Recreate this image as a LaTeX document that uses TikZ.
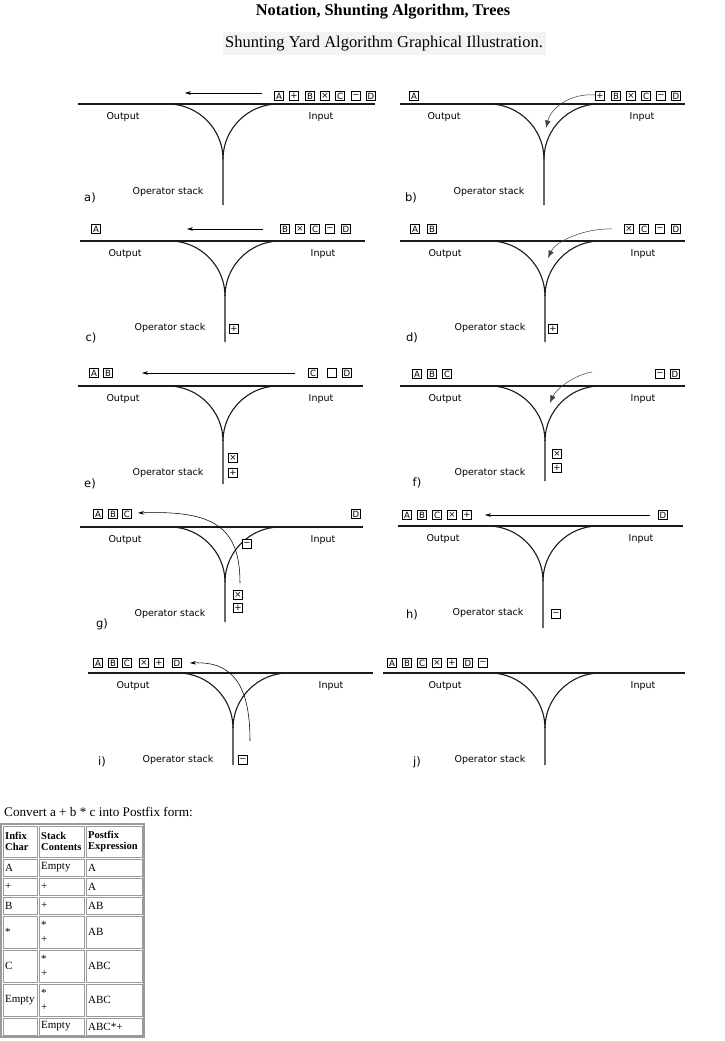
\documentclass[tikz,border=0pt]{standalone}
\usepackage{fontspec}
\setmainfont{Liberation Serif}
\newfontfamily\dvsans{DejaVu Sans}
\usetikzlibrary{arrows.meta}
\definecolor{trackc}{HTML}{1A1A1A}
\definecolor{cellgray}{HTML}{9A9A9A}
\definecolor{subbg}{HTML}{F3F3F3}
\tikzset{
  track/.style={trackc, line width=1.1pt},
  tok/.style={draw, line width=0.55pt, inner sep=0pt, minimum size=9.4pt,
    font=\dvsans\fontsize{8.6}{9}\selectfont},
  lbl/.style={font=\dvsans\fontsize{9.5}{10}\selectfont},
  tag/.style={font=\dvsans\fontsize{11.5}{12}\selectfont},
  mv/.style={-{Stealth[length=6pt,width=3.6pt]}, line width=0.55pt},
  push/.style={-{Latex[length=7.5pt,width=5.5pt]}, line width=0.5pt, black!75},
  cell/.style={draw=cellgray, line width=1pt},
  celltxt/.style={anchor=west, inner sep=0pt, align=left,
    font=\fontsize{11}{14}\selectfont},
}

\begin{document}
\begin{tikzpicture}[x=1pt, y=-1pt]
  \fill[white] (0,0) rectangle (725,1041);
  \useasboundingbox (0,0) rectangle (725,1041);

  % heading
  \node[font=\bfseries\fontsize{16.3}{19}\selectfont] (title) at (383,12) {Notation, Shunting Algorithm, Trees};
  \node[fill=subbg, minimum width=323pt, minimum height=23pt, inner sep=0pt,
    font=\fontsize{16.5}{19}\selectfont] (sub) at (384,44) {Shunting Yard Algorithm Graphical Illustration.};

  % ten panels: tracks and labels
  \foreach \p/\xl/\xr/\yh/\xj/\yb/\ys/\lx/\ly in {
      a/78/375/104/223/205/192/90/198,
      b/400/685/104/544/205/192/411/198,
      c/80/365/241/225/342/328/91/338,
      d/400/685/241/545/342/328/412/338,
      e/78/363/386/223/484/473/90/484,
      f/400/685/386/545/481/473/417/483,
      g/80/363/527/225/622/614/102/624,
      h/398/683/526/543/628/613/412/615,
      i/88/373/673/233/765/760/102/762,
      j/383/685/673/545/765/760/417/762} {
    \draw[track] (\xl,\yh) -- (\xr,\yh);
    \draw[track] (\xj-55,\yh) .. controls (\xj-25,\yh) and (\xj,\yh+25) .. (\xj,\yh+55) -- (\xj,\yb);
    \draw[track] (\xj+55,\yh) .. controls (\xj+25,\yh) and (\xj,\yh+25) .. (\xj,\yh+55);
    \node[lbl] (out-\p) at (\xj-100,\yh+13) {Output};
    \node[lbl] (in-\p) at (\xj+98,\yh+13) {Input};
    \node[lbl] (stk-\p) at (\xj-55,\ys) {Operator stack};
    \node[tag] (tag-\p) at (\lx,\ly) {\p)};
  }

  % a)
  \foreach \s/\x [count=\k] in {A/279,+/294,B/310,×/325,C/340,−/356,D/371}
    \node[tok] (a\k) at (\x,96) {\s};
  \coordinate (a-from) at (262,93);
  \coordinate (a-to) at (185,93);
  \draw[mv] (a-from) -- (a-to);

  % b)
  \node[tok] (b0) at (414,96) {A};
  \foreach \s/\x [count=\k] in {+/600,B/616,×/631,C/646,−/661,D/676}
    \node[tok] (b\k) at (\x,96) {\s};
  \coordinate (b-from) at (595,95);
  \coordinate (b-to) at (546,128);
  \draw[push] (b-from) .. controls (570,93) and (551,108) .. (b-to);

  % c)
  \node[tok] (c0) at (96,229) {A};
  \foreach \s/\x [count=\k] in {B/285,×/300,C/315,−/330,D/346}
    \node[tok] (c\k) at (\x,229) {\s};
  \node[tok] (cs1) at (234,329) {+};
  \coordinate (c-from) at (263,229);
  \coordinate (c-to) at (187,229);
  \draw[mv] (c-from) -- (c-to);

  % d)
  \foreach \s/\x [count=\k] in {A/415,B/432}
    \node[tok] (do\k) at (\x,229) {\s};
  \foreach \s/\x [count=\k] in {×/629,C/644,−/660,D/676}
    \node[tok] (d\k) at (\x,229) {\s};
  \node[tok] (ds1) at (553,329) {+};
  \coordinate (d-from) at (612,229);
  \coordinate (d-to) at (548,258);
  \draw[push] (d-from) .. controls (585,228) and (556,241) .. (d-to);

  % e)
  \foreach \s/\x [count=\k] in {A/94,B/108}
    \node[tok] (eo\k) at (\x,373) {\s};
  \node[tok] (e1) at (313,373) {C};
  \node[tok] (e2) at (332,373) {};
  \node[tok] (e3) at (347,373) {D};
  \node[tok] (es2) at (233,458) {×};
  \node[tok] (es1) at (233,473) {+};
  \coordinate (e-from) at (295,373);
  \coordinate (e-to) at (142,373);
  \draw[mv] (e-from) -- (e-to);

  % f)
  \foreach \s/\x [count=\k] in {A/417,B/432,C/447}
    \node[tok] (fo\k) at (\x,374) {\s};
  \node[tok] (f1) at (660,374) {−};
  \node[tok] (f2) at (675,374) {D};
  \node[tok] (fs2) at (557,454) {×};
  \node[tok] (fs1) at (557,468) {+};
  \coordinate (f-from) at (592,372);
  \coordinate (f-to) at (550,403);
  \draw[push] (f-from) .. controls (574,375) and (556,389) .. (f-to);

  % g)
  \foreach \s/\x [count=\k] in {A/98,B/113,C/127}
    \node[tok] (go\k) at (\x,514) {\s};
  \node[tok] (g1) at (356,514) {D};
  \node[tok, fill=white] (gm) at (247,544) {−};
  \node[tok] (gs2) at (238,595) {×};
  \node[tok] (gs1) at (238,608) {+};
  \coordinate (g-from) at (240,583);
  \coordinate (g-to) at (138,513);
  \draw[mv] (g-from) .. controls (240,528) and (215,510) .. (g-to);

  % h)
  \foreach \s/\x [count=\k] in {A/407,B/422,C/437,×/452,+/467}
    \node[tok] (ho\k) at (\x,515) {\s};
  \node[tok] (h1) at (663,515) {D};
  \node[tok] (hs1) at (556,614) {−};
  \coordinate (h-from) at (650,515);
  \coordinate (h-to) at (485,515);
  \draw[mv] (h-from) -- (h-to);

  % i)
  \foreach \s/\x [count=\k] in {A/98,B/113,C/127,×/144,+/159,D/177}
    \node[tok] (io\k) at (\x,663) {\s};
  \node[tok] (is1) at (243,760) {−};
  \coordinate (i-from) at (250,741);
  \coordinate (i-to) at (190,663);
  \draw[mv] (i-from) .. controls (250,690) and (236,661) .. (i-to);

  % j)
  \foreach \s/\x [count=\k] in {A/392,B/407,C/422,×/437,+/452,D/468,−/483}
    \node[tok] (jo\k) at (\x,663) {\s};

  % conversion table
  \node[anchor=west, inner sep=0pt, font=\fontsize{13.2}{15}\selectfont] (conv) at (4,812) {Convert a + b * c into Postfix form:};
  \draw[draw=cellgray, line width=1.5pt] (1,824) rectangle (144,1037);
  \foreach \ya/\yb in {826/857, 859/876, 878/895, 897/914, 916/948, 950/982, 984/1016, 1018/1035}
    \foreach \xa/\xb in {3/37, 39/84, 86/142}
      \draw[cell] (\xa,\ya) rectangle (\xb,\yb);
  \node[celltxt, font=\bfseries\fontsize{10.5}{11}\selectfont] (h1c) at (5,841.5) {Infix\\Char};
  \node[celltxt, font=\bfseries\fontsize{10.5}{11}\selectfont] (h2c) at (41,841.5) {Stack\\Contents};
  \node[celltxt, font=\bfseries\fontsize{10.5}{11}\selectfont] (h3c) at (88,841.5) {Postfix\\Expression};
  \foreach \y/\ca/\cb/\cc [count=\r] in {
      867.5/A/Empty/A,
      886.5/+/+/A,
      905.5/B/+/AB,
      932/*/{*\\+}/AB,
      966/C/{*\\+}/ABC,
      1000/Empty/{*\\+}/ABC,
      1026.5//Empty/ABC*+} {
    \node[celltxt] (r\r a) at (5,\y) {\ca};
    \node[celltxt] (r\r b) at (41,\y) {\cb};
    \node[celltxt] (r\r c) at (88,\y) {\cc};
  }
\end{tikzpicture}
\end{document}
